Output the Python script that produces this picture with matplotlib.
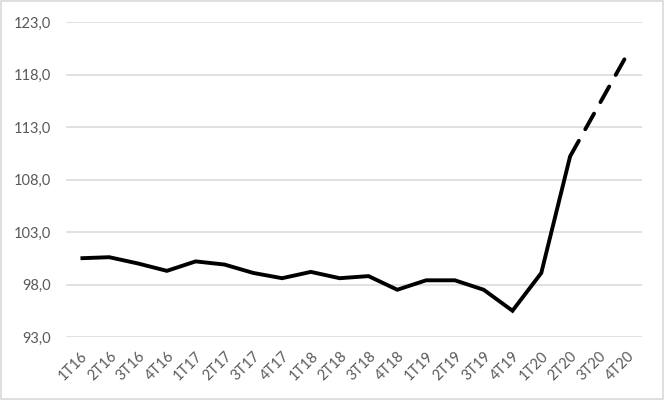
import matplotlib.pyplot as plt
import matplotlib.transforms as mtrans
from matplotlib.patches import Rectangle

# quarters and index values
quarters = ["1T16", "2T16", "3T16", "4T16", "1T17", "2T17", "3T17", "4T17",
            "1T18", "2T18", "3T18", "4T18", "1T19", "2T19", "3T19", "4T19",
            "1T20", "2T20", "3T20", "4T20"]
observed = [100.5, 100.6, 100.0, 99.3, 100.2, 99.9, 99.1, 98.6,
            99.2, 98.6, 98.8, 97.5, 98.4, 98.4, 97.5, 95.5,
            99.1, 110.2]
forecast = [110.2, 115.1, 120.0]   # 2T20 .. 4T20

yticks = [93.0, 98.0, 103.0, 108.0, 113.0, 118.0, 123.0]

grey = "#595959"
plt.rcParams["font.family"] = ["Lato", "DejaVu Sans"]

fig = plt.figure(figsize=(6.64, 4.0), dpi=100)
ax = fig.add_axes([0.0995, 0.1575, 0.8675, 0.7875])

x_obs = list(range(len(observed)))
x_fc = list(range(len(observed) - 1, len(quarters)))

ax.plot(x_obs, observed, color="black", lw=2.8, solid_joinstyle="miter",
        solid_capstyle="butt", zorder=3)
ax.plot(x_fc, forecast, color="black", lw=2.8, dashes=(4.6, 3.4),
        dash_capstyle="round", zorder=3)

ax.set_xlim(-0.5, len(quarters) - 0.5)
ax.set_ylim(93, 123)
ax.set_yticks(yticks)
ax.set_yticklabels([f"{v:.1f}".replace(".", ",") for v in yticks])
ax.set_xticks(range(len(quarters)))
ax.set_xticklabels(quarters, rotation=45, ha="right", rotation_mode="anchor")
shift = mtrans.ScaledTranslation(4 / 100, 0, fig.dpi_scale_trans)
for lab in ax.get_xticklabels():
    lab.set_transform(lab.get_transform() + shift)

ax.grid(axis="y", color="#d9d9d9", lw=1.1)
ax.set_axisbelow(True)
for s in ax.spines.values():
    s.set_visible(False)
ax.tick_params(axis="both", length=0, colors=grey, labelsize=10.5)
ax.tick_params(axis="y", pad=11)
ax.tick_params(axis="x", pad=9)

# light frame around the chart
fig.patches.append(Rectangle((0.002, 0.003), 0.996, 0.994, transform=fig.transFigure,
                             fill=False, edgecolor="#d9d9d9", lw=1.2))

fig.savefig("out.png", dpi=100)
